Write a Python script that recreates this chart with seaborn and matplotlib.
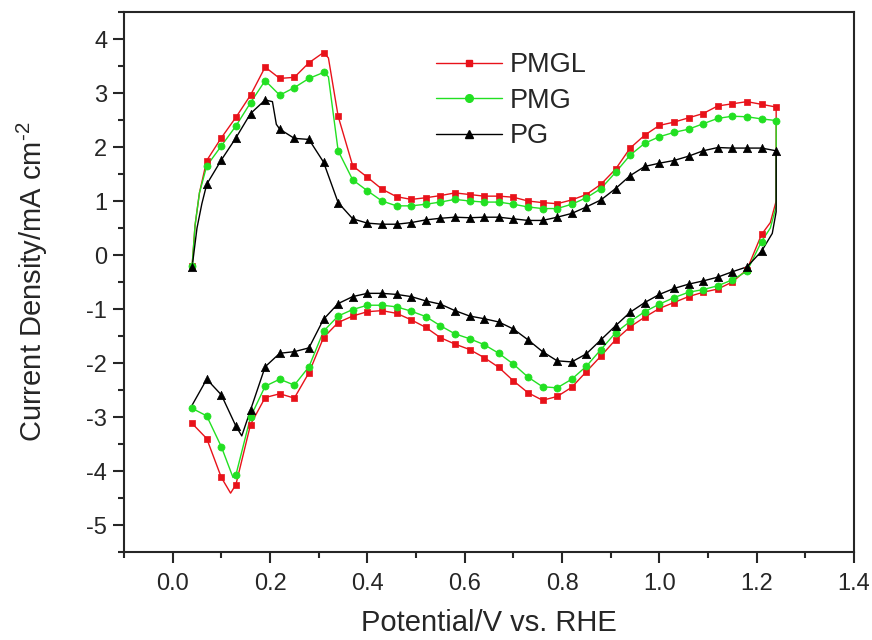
import numpy as np
import pandas as pd
import matplotlib
matplotlib.use('Agg')
import matplotlib.pyplot as plt
import seaborn as sns
from matplotlib.lines import Line2D
from matplotlib.ticker import MultipleLocator

# CV data (potential in V vs RHE, current in mA cm^-2)
# marker points are sampled every 0.03 V; extra points only shape the line
GRID = np.round(np.arange(0.04, 1.2401, 0.03), 2)

pmgl_anodic = [-0.20, 1.75, 2.17, 2.55, 2.96, 3.48, 3.27, 3.29, 3.56, 3.75,
               2.57, 1.65, 1.44, 1.22, 1.08, 1.03, 1.06, 1.10, 1.15, 1.12,
               1.09, 1.09, 1.07, 1.00, 0.97, 0.95, 1.02, 1.12, 1.31, 1.59,
               1.98, 2.22, 2.40, 2.46, 2.54, 2.62, 2.76, 2.80, 2.84, 2.79, 2.74]
pmgl_cathodic = [-3.12, -3.40, -4.12, -4.25, -3.14, -2.64, -2.57, -2.65, -2.18, -1.53,
                 -1.25, -1.13, -1.05, -1.03, -1.08, -1.20, -1.34, -1.53, -1.65, -1.75,
                 -1.90, -2.08, -2.33, -2.55, -2.69, -2.62, -2.45, -2.16, -1.87, -1.57,
                 -1.33, -1.15, -0.99, -0.88, -0.77, -0.69, -0.63, -0.50, -0.27, 0.38]
pmgl_an_extra = [(0.046, 0.55), (0.055, 1.15), (0.32, 3.65)]
pmgl_cat_extra = [(1.24, 1.0), (1.228, 0.6), (0.119, -4.41)]

pmg_anodic = [-0.20, 1.65, 2.02, 2.39, 2.82, 3.23, 2.96, 3.10, 3.27, 3.38,
              1.93, 1.39, 1.19, 1.00, 0.91, 0.91, 0.94, 0.98, 1.03, 1.00,
              0.98, 0.98, 0.94, 0.89, 0.86, 0.86, 0.94, 1.06, 1.23, 1.53,
              1.85, 2.07, 2.19, 2.27, 2.33, 2.43, 2.53, 2.57, 2.56, 2.52, 2.49]
pmg_cathodic = [-2.84, -2.98, -3.55, -4.07, -3.00, -2.43, -2.30, -2.41, -2.07, -1.41,
                -1.13, -1.01, -0.93, -0.93, -0.96, -1.04, -1.14, -1.31, -1.46, -1.55,
                -1.66, -1.82, -2.02, -2.26, -2.44, -2.46, -2.30, -2.06, -1.75, -1.44,
                -1.23, -1.05, -0.91, -0.79, -0.69, -0.64, -0.57, -0.46, -0.30, 0.25]
pmg_an_extra = [(0.046, 0.55), (0.055, 1.15), (0.32, 3.30)]
pmg_cat_extra = [(1.24, 0.9), (1.228, 0.5), (0.124, -4.12)]

pg_anodic = [-0.22, 1.31, 1.76, 2.17, 2.62, 2.87, 2.33, 2.16, 2.14, 1.72,
             0.97, 0.67, 0.59, 0.57, 0.57, 0.60, 0.65, 0.68, 0.70, 0.69,
             0.70, 0.70, 0.67, 0.64, 0.64, 0.70, 0.77, 0.89, 1.02, 1.23,
             1.47, 1.64, 1.70, 1.75, 1.83, 1.93, 1.99, 1.98, 1.98, 1.98, 1.93]
pg_cathodic = [-2.30, -2.59, -3.17, -2.87, -2.07, -1.82, -1.79, -1.72, -1.19,
               -0.90, -0.77, -0.71, -0.71, -0.73, -0.77, -0.85, -0.91, -1.03, -1.13,
               -1.18, -1.24, -1.37, -1.57, -1.79, -1.96, -1.98, -1.83, -1.57, -1.31,
               -1.06, -0.88, -0.73, -0.62, -0.54, -0.48, -0.41, -0.31, -0.22, 0.07]
pg_an_extra = [(0.05, 0.50), (0.06, 0.95), (0.205, 2.84), (0.213, 2.42)]
pg_cat_extra = [(1.24, 0.8), (1.232, 0.4), (0.142, -3.35), (0.04, -2.78)]

labels = ['PMGL', 'PMG', 'PG']
colors = ['#e8121a', '#22e022', '#000000']
markers = ['s', 'o', '^']
sizes = [22, 26, 36]


def build(an, an_extra, cat, cat_extra):
    an_pts = list(zip(GRID, an))
    cat_pts = list(zip(GRID[-1 - len(cat):-1], cat))
    mk = pd.DataFrame(an_pts + cat_pts, columns=['pot', 'cur'])
    loop = sorted(an_pts + an_extra) + sorted(cat_pts + cat_extra, reverse=True)
    return pd.DataFrame(loop, columns=['pot', 'cur']), mk


curves = [build(pmgl_anodic, pmgl_an_extra, pmgl_cathodic, pmgl_cat_extra),
          build(pmg_anodic, pmg_an_extra, pmg_cathodic, pmg_cat_extra),
          build(pg_anodic, pg_an_extra, pg_cathodic, pg_cat_extra)]

sns.set_style('ticks')
plt.rcParams['font.family'] = ['Liberation Sans', 'DejaVu Sans']
plt.rcParams['mathtext.fontset'] = 'custom'
plt.rcParams['mathtext.rm'] = 'Liberation Sans'
plt.rcParams['mathtext.it'] = 'Liberation Sans:italic'
plt.rcParams['axes.unicode_minus'] = False

fig = plt.figure(figsize=(8.72, 6.4), dpi=100)
ax = fig.add_axes([0.1422, 0.1375, 0.8372, 0.84375])

for (line, mk), c, m, s in zip(curves, colors, markers, sizes):
    sns.lineplot(data=line, x='pot', y='cur', sort=False, estimator=None,
                 color=c, lw=1.0, ax=ax, legend=False)
    sns.scatterplot(data=mk, x='pot', y='cur', marker=m, s=s, color=c,
                    edgecolor=c, linewidth=0.5, ax=ax, legend=False, zorder=3)

ax.set_xlim(-0.1, 1.4)
ax.set_ylim(-5.5, 4.5)
ax.xaxis.set_major_locator(MultipleLocator(0.2))
ax.xaxis.set_minor_locator(MultipleLocator(0.1))
ax.yaxis.set_major_locator(MultipleLocator(1))
ax.yaxis.set_minor_locator(MultipleLocator(0.5))
ax.xaxis.set_major_formatter(matplotlib.ticker.FormatStrFormatter('%.1f'))
ax.tick_params(which='major', direction='out', length=8, width=1.5, labelsize=17)
ax.tick_params(axis='x', which='major', pad=7)
ax.tick_params(axis='y', which='major', pad=4)
ax.tick_params(which='minor', direction='out', length=4.5, width=1.5)
for sp in ax.spines.values():
    sp.set_linewidth(1.5)

ax.set_xlabel('Potential/V vs. RHE', fontsize=21, labelpad=10)
ax.set_ylabel(r'Current Density/mA cm$^{\text{-}2}$', fontsize=21, labelpad=26)

handles = [Line2D([], [], color=c, marker=m, markersize=ms, lw=1.0, markeredgecolor=c)
           for c, m, ms in zip(colors, markers, [5, 5.5, 6])]
ax.legend(handles, labels, loc='upper left', bbox_to_anchor=(0.427, 0.925),
          frameon=False, fontsize=19.5, handlelength=2.45, handletextpad=0.3,
          labelspacing=0.35, borderpad=0, borderaxespad=0)

plt.savefig('out.png', dpi=100)
